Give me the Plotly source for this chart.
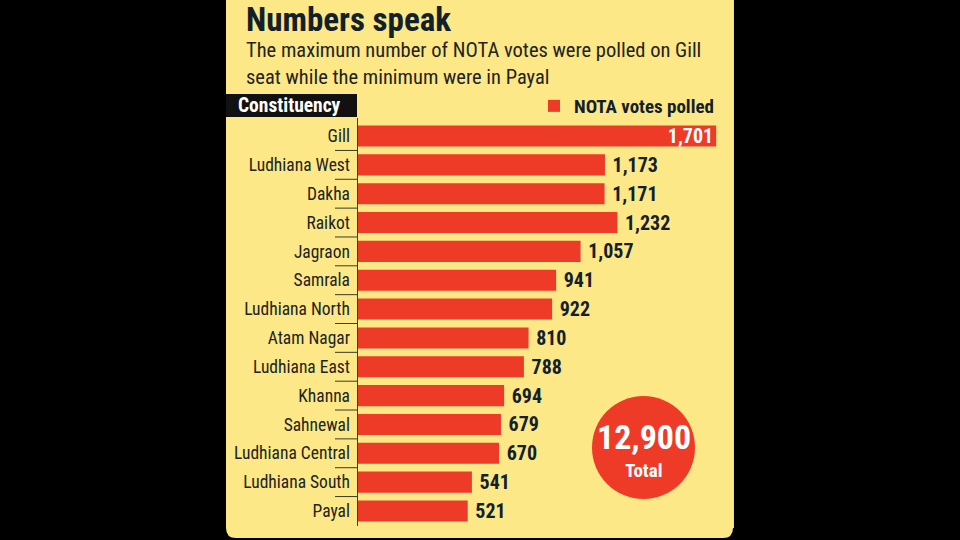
import plotly.graph_objects as go

W, H = 960, 540

constituencies = ['Gill', 'Ludhiana West', 'Dakha', 'Raikot', 'Jagraon', 'Samrala',
                  'Ludhiana North', 'Atam Nagar', 'Ludhiana East', 'Khanna', 'Sahnewal',
                  'Ludhiana Central', 'Ludhiana South', 'Payal']
nota_votes = [1701, 1173, 1171, 1232, 1057, 941, 922, 810, 788, 694, 679, 670, 541, 521]
total_votes = 12900

RED = '#EE3B28'
YELLOW = '#FCE886'
DARK = '#12202B'
FONT = 'Liberation Sans Narrow, Roboto Condensed, Roboto, sans-serif'


def px(x):
    return x / W


def py(y):
    return 1 - y / H


# Gill label sits inside its bar, the rest outside
positions = ['inside' if v == max(nota_votes) else 'outside' for v in nota_votes]
labels = [f'{v:,}' if p == 'inside' else f' {v:,}' for v, p in zip(nota_votes, positions)]

fig = go.Figure(go.Bar(
    x=nota_votes, y=constituencies, orientation='h',
    name='NOTA votes polled',
    marker=dict(color=RED, line=dict(width=0)),
    text=labels,
    textposition=positions,
    insidetextanchor='end',
    constraintext='none',
    insidetextfont=dict(color='white', size=20, family=FONT, weight='bold'),
    outsidetextfont=dict(color=DARK, size=20, family=FONT, weight='bold'),
    cliponaxis=False,
    hoverinfo='skip',
))

# yellow panel with rounded bottom corners
r = 10
x0, x1, yb = 226, 733, 538
path = (f'M {px(x0)} {py(-5)} L {px(x1)} {py(-5)} L {px(x1)} {py(yb - r)} '
        f'Q {px(x1)} {py(yb)} {px(x1 - r)} {py(yb)} L {px(x0 + r)} {py(yb)} '
        f'Q {px(x0)} {py(yb)} {px(x0)} {py(yb - r)} Z')
shapes = [dict(type='path', path=path, xref='paper', yref='paper',
               fillcolor=YELLOW, line=dict(width=0), layer='below')]
# thin light edge on the right of the panel
shapes.append(dict(type='line', xref='paper', yref='paper',
                   x0=px(733.5), x1=px(733.5), y0=py(0), y1=py(yb - r),
                   line=dict(color='#d8d8d0', width=1), layer='below'))

# "Constituency" header box
shapes.append(dict(type='rect', xref='paper', yref='paper',
                   x0=px(226), x1=px(357), y0=py(117), y1=py(94),
                   fillcolor='#111111', line=dict(width=0)))

# short separators between the row labels
for i in range(len(constituencies) - 1):
    shapes.append(dict(type='line', xref='paper', yref='y',
                       x0=px(335), x1=px(358), y0=i + 0.5, y1=i + 0.5,
                       line=dict(color='#3a3a2a', width=1)))

# axis line
shapes.append(dict(type='line', xref='paper', yref='paper',
                   x0=px(357.5), x1=px(357.5), y0=py(118), y1=py(526),
                   line=dict(color='#3a3a2a', width=1)))

# total circle
shapes.append(dict(type='circle', xref='paper', yref='paper',
                   x0=px(592), x1=px(695), y0=py(499), y1=py(396),
                   fillcolor=RED, line=dict(width=0)))

annotations = [
    dict(text='Numbers speak', x=px(244), y=py(20), xref='paper', yref='paper',
         xanchor='left', yanchor='middle', showarrow=False,
         font=dict(family=FONT, size=33, color=DARK, weight='bold')),
    dict(text='The maximum number of NOTA votes were polled on Gill<br>seat while the minimum were in Payal',
         x=px(244), y=py(64), xref='paper', yref='paper', xanchor='left', yanchor='middle',
         align='left', showarrow=False,
         font=dict(family=FONT, size=20.5, color='#222222')),
    dict(text='Constituency', x=px(236), y=py(105.5), xref='paper', yref='paper',
         xanchor='left', yanchor='middle', showarrow=False,
         font=dict(family=FONT, size=19.5, color='white', weight='bold')),
    dict(text=f'{total_votes:,}', x=px(643.5), y=py(437), xref='paper', yref='paper',
         xanchor='center', yanchor='middle', showarrow=False,
         font=dict(family=FONT, size=34, color='white', weight='bold')),
    dict(text='Total', x=px(643.5), y=py(470), xref='paper', yref='paper',
         xanchor='center', yanchor='middle', showarrow=False,
         font=dict(family=FONT, size=19, color='white', weight='bold')),
]

fig.update_layout(
    width=W, height=H,
    margin=dict(l=0, r=0, t=0, b=0),
    paper_bgcolor='black', plot_bgcolor='rgba(0,0,0,0)',
    bargap=0.27,
    showlegend=True,
    legend=dict(orientation='h', x=px(719), xanchor='right', y=py(106), yanchor='middle',
                bgcolor='rgba(0,0,0,0)', itemclick=False, itemwidth=30,
                font=dict(family=FONT, size=19, color=DARK, weight='bold')),
    shapes=shapes,
    annotations=annotations,
    xaxis=dict(domain=[px(358), px(733)], range=[0, 1781], visible=False, fixedrange=True),
    yaxis=dict(domain=[py(525.4), py(121.6)], autorange='reversed', type='category',
               showline=False, showgrid=False, ticks='', ticklabelstandoff=7,
               tickfont=dict(family=FONT, size=17.5, color='#222222'), fixedrange=True),
)

fig.write_html('out.html', config={'displayModeBar': False},
               post_script="document.body.style.margin='0';")
